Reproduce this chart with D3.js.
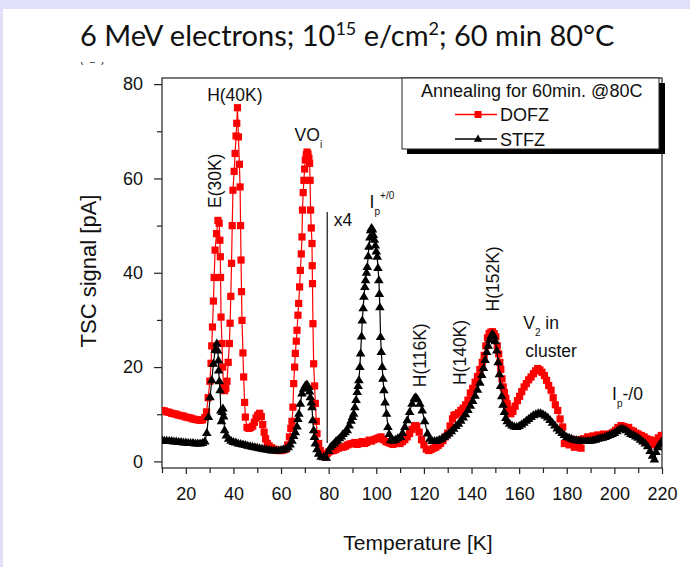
<!DOCTYPE html>
<html>
<head>
<meta charset="utf-8">
<script src="https://cdn.jsdelivr.net/npm/d3@7/dist/d3.min.js"></script>
<style>
  body { margin: 0; background: #fff; overflow: hidden; }
  svg { display: block; }
</style>
</head>
<body>
<div id="chart"></div>
<script>
// DOFZ (red squares) : [temperature K, TSC signal pA]
const dofzPoints = [
  [10,10.8],[11,10.7],[12,10.5],[13,10.4],[14,10.2],[15,10.1],[16,10.0],[17,9.8],[18,9.7],[19,9.6],
  [20,9.4],[21,9.3],[22,9.2],[23,9.0],[24,8.9],[25,8.8],[26,8.7],[27,8.8],[28,9.3],[28.7,10.5],
  [29.4,13.5],[30.1,17],[30.6,20.8],[30.9,24.5],[31.2,28.5],[31.6,34],[31.9,39],[32.3,44.8],[32.9,48.3],[33.5,51.1],
  [34.0,50.5],[34.3,46.9],[34.5,43.4],[34.6,39],[34.8,30.6],[35.2,25],[35.5,20],[35.8,15.8],[36.3,15],[36.8,15.5],
  [37.3,17],[37.8,21],[38.3,25],[38.6,29.3],[38.9,35],[39.2,42],[39.5,50],[39.8,57.5],[40.3,61.5],[40.7,65.3],
  [41.1,69],[41.4,71.7],[41.7,75],[42.1,68.8],[42.5,63],[42.8,58.2],[43.0,50],[43.2,42.7],[43.4,36],[43.6,29.9],
  [44.0,23],[44.3,17.9],[44.7,12.5],[45.0,9.4],[45.7,7.2],[46.5,7.0],[47.3,7.2],[48.1,7.5],[48.8,8.3],[49.5,9.2],
  [50.2,9.8],[51.0,10.2],[51.7,9.5],[52.3,7.8],[52.9,6.2],[53.5,4.8],[54.2,3.8],[55,3.3],[56,2.9],[57,2.6],
  [58,2.4],[59,2.3],[60,2.3],[61,2.4],[62,2.6],[62.8,3.5],[63.5,5.2],[64.1,7],[64.6,8.5],[65.0,11.5],
  [65.3,16.5],[65.7,20],[66.0,22.9],[66.4,25.5],[66.7,27.8],[67.1,31],[67.4,33.5],[67.8,37],[68.1,40.5],[68.5,44],
  [68.8,47.6],[69.0,53.3],[69.3,57],[69.6,59.6],[69.9,62],[70.2,63.9],[70.6,65],[70.9,65.6],[71.3,65.2],[71.7,64.3],
  [72.0,63.2],[72.2,59.6],[72.4,53.3],[72.7,49.5],[73.0,46.2],[73.1,41.5],[73.2,37.7],[73.4,29.2],[73.7,20.7],[74.1,16],
  [74.4,12.3],[74.8,8.5],[75.1,5.9],[75.8,3.8],[76.5,2.3],[77.5,1.5],[78.6,0.9],[79.3,1.6],[80,2.0],[81,2.2],
  [82,2.3],[83,2.5],[84,2.8],[85,3.0],[86,3.0],[87,3.2],[88,3.5],[89,3.7],[90,3.8],[91,4.0],
  [92,3.6],[93,3.8],[94,4.2],[95,3.8],[96,4.0],[97,4.5],[98,4.3],[99,4.6],[100,4.8],[101,5.0],
  [102,5.2],[103,4.6],[104,4.2],[105,4.0],[106,3.8],[107,3.6],[108,3.9],[109,3.8],[110,3.8],[111,4.2],
  [112,4.6],[113,5.2],[114,5.9],[115,6.8],[116,7.4],[116.5,7.6],[117,7.4],[118,6.2],[119,4.6],[120,3.5],
  [121,2.6],[122,2.3],[123,2.5],[124,2.8],[125,3.0],[126,3.4],[127,3.8],[128,4.4],[129,5.2],[130,6.0],
  [131,7.5],[132,9.0],[132.6,9.8],[133.5,9.9],[134.5,10.3],[135.5,10.8],[136.5,11.3],[137.5,12],[138.5,13],[139.5,14.5],
  [140.5,15.5],[141.5,16.8],[142.5,18],[143.5,19.5],[144.5,21],[145.3,22.5],[146,24.5],[146.7,26.2],[147.4,27.1],[148.1,27.4],
  [148.8,27.5],[149.5,27.1],[150.2,26.4],[150.8,24.5],[151.4,22.8],[151.9,21],[152.3,19.5],[152.8,17.5],[153.3,15.8],[153.8,14.6],
  [154.4,13.4],[155,12.2],[155.7,11],[156.5,10.1],[157.4,10.6],[158.3,11.7],[159.3,12.9],[160.2,13.8],[161.1,14.8],[162.1,15.8],
  [163,16.5],[164,17.3],[165,17.9],[166,18.6],[166.9,19.2],[167.8,19.7],[168.7,19.4],[169.6,18.9],[170.6,18.2],[171.5,17.2],
  [172.4,16.1],[173.4,15.1],[174.3,13.5],[175.2,12],[176.2,10.8],[177.2,9],[178.3,7.3],[179,3.8],[180,4.5],[181,3.5],
  [182,4.2],[183.2,3.0],[184,4.6],[185,3.6],[186,2.8],[187,4.8],[188.8,5.2],[190,5.0],[191,5.4],[192,5.2],
  [193,5.6],[194.4,5.5],[195.5,5.8],[196.5,5.4],[197.5,5.7],[198.6,5.9],[199.5,6.2],[200.5,6.6],[201.5,7.2],[202.8,7.6],
  [204,7.4],[205,7.0],[206,7.2],[207,6.6],[208,6.4],[209,6.0],[210,5.8],[211.3,5.5],[212.5,5.2],[213.5,4.8],
  [214.5,4.6],[215.5,4.5],[216.5,3.5],[217.5,4.2],[218.5,5.0],[219.7,5.5]
];

// STFZ (black triangles) : [temperature K, TSC signal pA]
const stfzPoints = [
  [10,4.5],[11,4.4],[12,4.4],[13,4.3],[14,4.3],[15,4.2],[16,4.2],[17,4.1],[18,4.1],[19,4.0],
  [20,4.0],[21,3.9],[22,3.9],[23,3.9],[24,3.8],[25,3.8],[26,3.8],[27,3.9],[28,4.2],[28.8,6],
  [29.5,9.4],[30.2,13.6],[30.9,17.2],[31.6,20.7],[32.3,23.6],[33.0,25],[33.4,23.5],[33.7,21.4],[33.8,19.3],[34.1,17],
  [34.4,15.1],[34.7,10.8],[35.0,8.5],[35.3,10.5],[35.6,11.2],[35.9,9.5],[36.3,6.6],[37,5.5],[38,4.8],[39,4.4],
  [40,4.1],[41,4.0],[42,3.8],[43,3.7],[44,3.6],[45,3.5],[46,3.3],[47,3.2],[48,3.1],[49,3.0],
  [50,2.9],[51,2.8],[52,2.7],[53,2.6],[54,2.5],[55,2.4],[56,2.3],[57,2.3],[58,2.3],[59,2.3],
  [60,2.4],[61,2.5],[62,2.7],[63,3.0],[63.8,3.6],[64.6,4.4],[65.3,5.4],[66,6.2],[66.7,7.4],[67.1,9],
  [67.5,10.1],[68.1,12.2],[68.8,14.4],[69.5,15.4],[70.2,16.1],[70.9,16.3],[71.6,15.8],[72.0,14.8],[72.3,13.6],[72.7,12.5],
  [73.0,11.5],[73.3,8.7],[73.7,6.6],[74.0,5.2],[74.4,3.8],[75.1,2.6],[75.8,1.6],[76.8,1.0],[77.9,0.9],[79,0.8],
  [80,2.2],[80.7,3.0],[81.5,3.4],[82.3,3.8],[83,4.2],[83.6,4.5],[84.5,4.9],[85.3,5.3],[86,5.8],[86.9,6.2],
  [87.8,6.6],[88.6,7.6],[89.4,8.6],[90,9.4],[90.5,10.1],[91,11.5],[91.5,13],[92,14.7],[92.4,16],[92.7,17.2],
  [93.1,20],[93.4,22.9],[93.8,26.5],[94.1,29.9],[94.5,32.5],[94.8,34.9],[95.2,37],[95.5,38.4],[95.9,40],[96.2,41.2],
  [96.6,43.5],[96.9,45.5],[97.3,47.5],[97.6,49],[98.0,49.5],[98.4,49.2],[98.8,48],[99.2,47],[99.6,45.8],[100.0,44.5],
  [100.4,43.4],[100.7,41],[101.1,38.4],[101.3,35.5],[101.5,32.7],[101.8,26.4],[102.1,23.2],[102.5,20],[102.8,17.5],[103.2,15.1],
  [103.7,12.5],[104.3,10.1],[104.9,7.3],[105.4,5.8],[106,4.5],[107,4.4],[108,4.6],[109,4.9],[110.2,5.2],[111,6.0],
  [112,7.3],[113,8.7],[114,10.5],[115,12.2],[116,13.4],[116.6,13.6],[117.3,13.2],[118.3,12.2],[119.3,10.8],[120.3,8.5],
  [121.5,5.9],[122.5,4.8],[123.5,4.3],[124.5,4.3],[125.5,4.4],[126.5,4.6],[127.5,4.8],[128.5,5.2],[129.5,5.5],[130.5,5.9],
  [131.5,6.4],[132.5,6.9],[133.5,7.5],[134.5,8.0],[135.5,8.6],[136.5,9.3],[137.5,10.0],[138.5,10.9],[139.5,11.8],[140.5,12.8],
  [141.5,13.9],[142.5,15.2],[143.5,16.7],[144.3,18.3],[145,19.8],[145.7,21.5],[146.4,23.2],[147,24.5],[147.6,25.8],[148.2,26.6],
  [148.8,27],[149.4,26.6],[150,25.5],[150.6,23.5],[151.2,21],[151.7,18.5],[152.2,16],[152.7,13.8],[153.2,12],[153.8,10.5],
  [154.4,9.2],[155,8.5],[156,8.0],[157,7.6],[158,7.4],[159,7.3],[160,7.5],[161,7.8],[162,8.2],[163,8.6],
  [164,9.0],[165,9.4],[166,9.8],[167,10.0],[168,10.2],[169,10.2],[170,10.0],[171,9.7],[172,9.3],[173,8.8],
  [174,8.2],[175,7.6],[176,7.0],[177,6.5],[178,6.0],[179,5.6],[180,5.2],[181,5.0],[182,4.8],[183,4.6],
  [184,4.5],[185,4.4],[186,4.3],[187,4.3],[188,4.3],[189,4.3],[190,4.4],[191,4.5],[192,4.6],[193,4.8],
  [194,4.9],[195,5.0],[196,5.2],[197,5.4],[198,5.6],[199,5.8],[200,6.0],[201,6.4],[202,6.8],[203,7.0],
  [204,6.8],[205,6.6],[206,6.2],[207,5.8],[208,5.6],[209,5.3],[210,5.0],[211,4.6],[212,4.2],[213,3.8],
  [214,3.2],[215,2.2],[216,1.2],[216.8,0.4],[217.5,2.0],[218.2,3.0],[219,3.6],[219.8,4.2]
];

const xMajorTicks = [20, 40, 60, 80, 100, 120, 140, 160, 180, 200, 220];
const xMinorTicks = [10, 30, 50, 70, 90, 110, 130, 150, 170, 190, 210];
const yMajorTicks = [0, 20, 40, 60, 80];
const yMinorTicks = [10, 30, 50, 70];

const legendTitle = "Annealing for 60min. @80C";
const seriesNames = ["DOFZ", "STFZ"];

// x4 marker: vertical line at ~79.4 K
const x4Line = { t: 79.4, from: 3.9, to: 52.9 };

const font = "'Liberation Sans', Arial, sans-serif";

const width = 690, height = 567;
const svg = d3.select("#chart").append("svg")
  .attr("width", width)
  .attr("height", height);

// slide background
svg.append("rect").attr("width", width).attr("height", height).attr("fill", "#fff");
svg.append("rect").attr("width", width).attr("height", 9).attr("fill", "#e0e0f8");
svg.append("rect").attr("width", 3).attr("height", height).attr("fill", "#e0e0f8");

// slide title
const title = svg.append("text")
  .attr("x", 80).attr("y", 46)
  .attr("font-family", "Lato, 'Open Sans', sans-serif")
  .attr("font-size", 29)
  .attr("fill", "#111");
title.append("tspan").text("6 MeV electrons; 10");
title.append("tspan").attr("font-size", 18).attr("dy", -11).text("15");
title.append("tspan").attr("dy", 11).text(" e/cm");
title.append("tspan").attr("font-size", 18).attr("dy", -11).text("2");
title.append("tspan").attr("dy", 11).text("; 60 min 80°C");

// cut-off panel tag, only the tails of its brackets are visible
svg.append("clipPath").attr("id", "tagclip")
  .append("rect").attr("x", 70).attr("y", 62).attr("width", 60).attr("height", 8);
svg.append("text")
  .attr("clip-path", "url(#tagclip)")
  .attr("x", 80).attr("y", 62.5)
  .attr("font-family", font).attr("font-size", 10)
  .attr("letter-spacing", 6)
  .text("(a)");

const x = d3.scaleLinear().domain([10, 220]).range([162, 662]);
const y = d3.scaleLinear().domain([-1.4, 81.3]).range([468, 78]);

const [x0, x1] = x.range();
const [yb, yt] = y.range();

svg.append("clipPath").attr("id", "plotclip")
  .append("rect").attr("x", x0).attr("y", yt).attr("width", x1 - x0).attr("height", yb - yt);

// axes
function styleAxis(g) {
  g.select(".domain").remove();
  g.selectAll("line").attr("stroke", "#222").attr("stroke-width", 1.2);
  g.selectAll("text").attr("font-family", font).attr("font-size", 18).attr("fill", "#111");
}

svg.append("g").attr("transform", `translate(0,${yb})`)
  .call(d3.axisBottom(x).tickValues(xMajorTicks).tickSize(6).tickPadding(13))
  .call(styleAxis);
svg.append("g").attr("transform", `translate(0,${yb})`)
  .call(d3.axisBottom(x).tickValues(xMinorTicks).tickSize(5).tickFormat(""))
  .call(styleAxis);
svg.append("g").attr("transform", `translate(${x0},0)`)
  .call(d3.axisLeft(y).tickValues(yMajorTicks).tickSize(8).tickPadding(11))
  .call(styleAxis);
svg.append("g").attr("transform", `translate(${x0},0)`)
  .call(d3.axisLeft(y).tickValues(yMinorTicks).tickSize(5).tickFormat(""))
  .call(styleAxis);

// frame
svg.append("rect")
  .attr("x", x0).attr("y", yt).attr("width", x1 - x0).attr("height", yb - yt)
  .attr("fill", "none").attr("stroke", "#222").attr("stroke-width", 1.2);

// axis titles
svg.append("text")
  .attr("x", 418).attr("y", 550)
  .attr("text-anchor", "middle")
  .attr("font-family", font).attr("font-size", 21).attr("fill", "#111")
  .text("Temperature [K]");
svg.append("text")
  .attr("transform", "translate(96,271) rotate(-90)")
  .attr("text-anchor", "middle")
  .attr("font-family", font).attr("font-size", 22).attr("fill", "#111")
  .text("TSC signal [pA]");

// series
const plot = svg.append("g").attr("clip-path", "url(#plotclip)");
const line = d3.line().x(d => x(d[0])).y(d => y(d[1]));
const triPath = "M0,-5L4.8,3L-4.8,3Z";

plot.append("path").datum(dofzPoints)
  .attr("d", line).attr("fill", "none").attr("stroke", "#ff0000").attr("stroke-width", 1.2);
plot.selectAll("rect.dofz").data(dofzPoints).enter().append("rect")
  .attr("class", "dofz")
  .attr("x", d => x(d[0]) - 3.6).attr("y", d => y(d[1]) - 3.6)
  .attr("width", 7.2).attr("height", 7.2)
  .attr("fill", "#ff0000");

plot.append("path").datum(stfzPoints)
  .attr("d", line).attr("fill", "none").attr("stroke", "#000").attr("stroke-width", 1.2);
plot.selectAll("path.stfz").data(stfzPoints).enter().append("path")
  .attr("class", "stfz")
  .attr("d", triPath)
  .attr("transform", d => `translate(${x(d[0])},${y(d[1])})`)
  .attr("fill", "#000");

// x4 line
svg.append("line")
  .attr("x1", x(x4Line.t)).attr("x2", x(x4Line.t))
  .attr("y1", y(x4Line.to)).attr("y2", y(x4Line.from))
  .attr("stroke", "#222").attr("stroke-width", 1.3);

// peak labels: parts are [text, "n" | "sub" | "sup"]
const annotations = [
  { t: 40.6, v: 76.4, anchor: "middle", parts: [["H(40K)", "n"]] },
  { t: 34.9, v: 59.5, rotate: true, parts: [["E(30K)", "n"]] },
  { t: 65.7, v: 67.9, parts: [["VO", "n"], ["i", "sub"]] },
  { t: 82.1, v: 49.9, parts: [["x4", "n"]] },
  { t: 97.2, v: 53.8, parts: [["I", "n"], ["p", "sub"], ["+/0", "sup"]] },
  { t: 120.7, v: 22.5, rotate: true, parts: [["H(116K)", "n"]] },
  { t: 137.8, v: 23.1, rotate: true, parts: [["H(140K)", "n"]] },
  { t: 151.7, v: 38.7, rotate: true, parts: [["H(152K)", "n"]] },
  { t: 161.7, v: 28.1, parts: [["V", "n"], ["2", "sub"], [" in", "n"]] },
  { t: 162.6, v: 22.2, parts: [["cluster", "n"]] },
  { t: 199, v: 13, parts: [["I", "n"], ["p", "sub"], ["-/0", "n"]] }
];

annotations.forEach(a => {
  const px = x(a.t), py = y(a.v);
  const txt = svg.append("text")
    .attr("font-family", font).attr("font-size", 17.5).attr("fill", "#111")
    .attr("text-anchor", a.rotate || a.anchor === "middle" ? "middle" : "start");
  if (a.rotate) txt.attr("transform", `translate(${px},${py}) rotate(-90)`);
  else txt.attr("x", px).attr("y", py);
  let shift = 0;
  a.parts.forEach(([s, kind]) => {
    const target = kind === "sub" ? 7 : kind === "sup" ? -9 : 0;
    const ts = txt.append("tspan").attr("dy", target - shift).text(s);
    if (kind !== "n") ts.attr("font-size", 10);
    shift = target;
  });
});

// legend with drop shadow
const lg = svg.append("g");
lg.append("rect").attr("x", 407).attr("y", 83).attr("width", 258).attr("height", 71).attr("fill", "#000");
lg.append("rect").attr("x", 402).attr("y", 78).attr("width", 257).attr("height", 71)
  .attr("fill", "#fff").attr("stroke", "#222").attr("stroke-width", 1);
lg.append("text").attr("x", 421).attr("y", 96.5)
  .attr("font-family", font).attr("font-size", 18).attr("fill", "#111")
  .text(legendTitle);

const legendRows = [
  { name: seriesNames[0], color: "#ff0000", marker: "square", yPos: 114.5 },
  { name: seriesNames[1], color: "#000", marker: "triangle", yPos: 139 }
];
legendRows.forEach(r => {
  lg.append("line").attr("x1", 455).attr("x2", 497).attr("y1", r.yPos).attr("y2", r.yPos)
    .attr("stroke", r.color).attr("stroke-width", 1.3);
  if (r.marker === "square") {
    lg.append("rect").attr("x", 474.5).attr("y", r.yPos - 3.5).attr("width", 7).attr("height", 7).attr("fill", r.color);
  } else {
    lg.append("path").attr("d", "M0,-4.5L4.2,2.8L-4.2,2.8Z").attr("transform", `translate(478,${r.yPos})`).attr("fill", r.color);
  }
  lg.append("text").attr("x", 500).attr("y", r.yPos + 6.5)
    .attr("font-family", font).attr("font-size", 18).attr("fill", "#111")
    .text(r.name);
});
</script>
</body>
</html>
